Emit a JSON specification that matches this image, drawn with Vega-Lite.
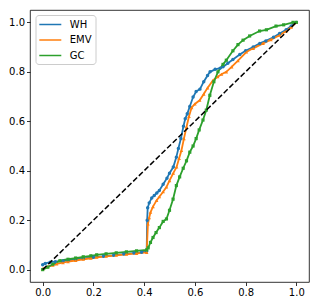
{
  "$schema": "https://vega.github.io/schema/vega-lite/v6.json",
  "width": 279,
  "height": 272,
  "autosize": {"type": "none"},
  "padding": {"left": 30, "top": 10, "right": 10, "bottom": 24},
  "background": "white",
  "config": {
    "view": {"stroke": "#000", "strokeWidth": 0.8},
    "axis": {"grid": false, "domain": false, "tickColor": "#000", "tickSize": 3.5, "tickWidth": 0.8, "labelFont": "DejaVu Sans", "labelFontSize": 10, "labelColor": "#000", "title": null, "labelPadding": 2}
  },
  "datasets": {
    "curves": [
      {"series": "WH", "x": 0.0, "y": 0.02}, {"series": "WH", "x": 0.01, "y": 0.025}, {"series": "WH", "x": 0.03, "y": 0.03}, {"series": "WH", "x": 0.05, "y": 0.032}, {"series": "WH", "x": 0.08, "y": 0.035}, {"series": "WH", "x": 0.1, "y": 0.038}, {"series": "WH", "x": 0.13, "y": 0.042}, {"series": "WH", "x": 0.16, "y": 0.045}, {"series": "WH", "x": 0.2, "y": 0.05}, {"series": "WH", "x": 0.24, "y": 0.054}, {"series": "WH", "x": 0.28, "y": 0.058}, {"series": "WH", "x": 0.32, "y": 0.063}, {"series": "WH", "x": 0.36, "y": 0.067}, {"series": "WH", "x": 0.39, "y": 0.07}, {"series": "WH", "x": 0.41, "y": 0.075}, {"series": "WH", "x": 0.412, "y": 0.2}, {"series": "WH", "x": 0.414, "y": 0.25}, {"series": "WH", "x": 0.42, "y": 0.27}, {"series": "WH", "x": 0.43, "y": 0.29}, {"series": "WH", "x": 0.44, "y": 0.3}, {"series": "WH", "x": 0.45, "y": 0.31}, {"series": "WH", "x": 0.46, "y": 0.32}, {"series": "WH", "x": 0.475, "y": 0.345}, {"series": "WH", "x": 0.49, "y": 0.37}, {"series": "WH", "x": 0.5, "y": 0.39}, {"series": "WH", "x": 0.515, "y": 0.415}, {"series": "WH", "x": 0.527, "y": 0.455}, {"series": "WH", "x": 0.535, "y": 0.49}, {"series": "WH", "x": 0.545, "y": 0.53}, {"series": "WH", "x": 0.555, "y": 0.58}, {"series": "WH", "x": 0.562, "y": 0.61}, {"series": "WH", "x": 0.57, "y": 0.63}, {"series": "WH", "x": 0.58, "y": 0.66}, {"series": "WH", "x": 0.593, "y": 0.698}, {"series": "WH", "x": 0.605, "y": 0.72}, {"series": "WH", "x": 0.62, "y": 0.73}, {"series": "WH", "x": 0.635, "y": 0.76}, {"series": "WH", "x": 0.65, "y": 0.785}, {"series": "WH", "x": 0.66, "y": 0.8}, {"series": "WH", "x": 0.68, "y": 0.81}, {"series": "WH", "x": 0.7, "y": 0.815}, {"series": "WH", "x": 0.711, "y": 0.82}, {"series": "WH", "x": 0.73, "y": 0.835}, {"series": "WH", "x": 0.75, "y": 0.85}, {"series": "WH", "x": 0.777, "y": 0.87}, {"series": "WH", "x": 0.8, "y": 0.885}, {"series": "WH", "x": 0.83, "y": 0.9}, {"series": "WH", "x": 0.856, "y": 0.915}, {"series": "WH", "x": 0.88, "y": 0.925}, {"series": "WH", "x": 0.91, "y": 0.94}, {"series": "WH", "x": 0.934, "y": 0.955}, {"series": "WH", "x": 0.96, "y": 0.97}, {"series": "WH", "x": 0.98, "y": 0.985}, {"series": "WH", "x": 1.0, "y": 1.0},
      {"series": "EMV", "x": 0.0, "y": 0.003}, {"series": "EMV", "x": 0.02, "y": 0.012}, {"series": "EMV", "x": 0.04, "y": 0.018}, {"series": "EMV", "x": 0.055, "y": 0.023}, {"series": "EMV", "x": 0.08, "y": 0.028}, {"series": "EMV", "x": 0.1, "y": 0.032}, {"series": "EMV", "x": 0.13, "y": 0.037}, {"series": "EMV", "x": 0.16, "y": 0.042}, {"series": "EMV", "x": 0.19, "y": 0.046}, {"series": "EMV", "x": 0.213, "y": 0.05}, {"series": "EMV", "x": 0.25, "y": 0.054}, {"series": "EMV", "x": 0.29, "y": 0.058}, {"series": "EMV", "x": 0.33, "y": 0.062}, {"series": "EMV", "x": 0.37, "y": 0.066}, {"series": "EMV", "x": 0.41, "y": 0.07}, {"series": "EMV", "x": 0.415, "y": 0.185}, {"series": "EMV", "x": 0.42, "y": 0.21}, {"series": "EMV", "x": 0.425, "y": 0.232}, {"series": "EMV", "x": 0.435, "y": 0.255}, {"series": "EMV", "x": 0.449, "y": 0.28}, {"series": "EMV", "x": 0.46, "y": 0.295}, {"series": "EMV", "x": 0.475, "y": 0.315}, {"series": "EMV", "x": 0.488, "y": 0.334}, {"series": "EMV", "x": 0.5, "y": 0.36}, {"series": "EMV", "x": 0.515, "y": 0.39}, {"series": "EMV", "x": 0.528, "y": 0.415}, {"series": "EMV", "x": 0.538, "y": 0.45}, {"series": "EMV", "x": 0.547, "y": 0.482}, {"series": "EMV", "x": 0.557, "y": 0.53}, {"series": "EMV", "x": 0.567, "y": 0.577}, {"series": "EMV", "x": 0.577, "y": 0.62}, {"series": "EMV", "x": 0.587, "y": 0.655}, {"series": "EMV", "x": 0.6, "y": 0.67}, {"series": "EMV", "x": 0.619, "y": 0.685}, {"series": "EMV", "x": 0.635, "y": 0.71}, {"series": "EMV", "x": 0.65, "y": 0.735}, {"series": "EMV", "x": 0.672, "y": 0.766}, {"series": "EMV", "x": 0.69, "y": 0.78}, {"series": "EMV", "x": 0.705, "y": 0.79}, {"series": "EMV", "x": 0.724, "y": 0.8}, {"series": "EMV", "x": 0.745, "y": 0.82}, {"series": "EMV", "x": 0.77, "y": 0.845}, {"series": "EMV", "x": 0.803, "y": 0.88}, {"series": "EMV", "x": 0.83, "y": 0.895}, {"series": "EMV", "x": 0.869, "y": 0.915}, {"series": "EMV", "x": 0.9, "y": 0.93}, {"series": "EMV", "x": 0.934, "y": 0.948}, {"series": "EMV", "x": 0.96, "y": 0.965}, {"series": "EMV", "x": 0.98, "y": 0.98}, {"series": "EMV", "x": 1.0, "y": 1.0},
      {"series": "GC", "x": 0.0, "y": 0.0}, {"series": "GC", "x": 0.02, "y": 0.01}, {"series": "GC", "x": 0.04, "y": 0.022}, {"series": "GC", "x": 0.068, "y": 0.036}, {"series": "GC", "x": 0.1, "y": 0.042}, {"series": "GC", "x": 0.13, "y": 0.047}, {"series": "GC", "x": 0.16, "y": 0.052}, {"series": "GC", "x": 0.19, "y": 0.056}, {"series": "GC", "x": 0.213, "y": 0.06}, {"series": "GC", "x": 0.25, "y": 0.064}, {"series": "GC", "x": 0.29, "y": 0.068}, {"series": "GC", "x": 0.33, "y": 0.072}, {"series": "GC", "x": 0.37, "y": 0.076}, {"series": "GC", "x": 0.41, "y": 0.08}, {"series": "GC", "x": 0.416, "y": 0.088}, {"series": "GC", "x": 0.425, "y": 0.11}, {"series": "GC", "x": 0.435, "y": 0.13}, {"series": "GC", "x": 0.447, "y": 0.15}, {"series": "GC", "x": 0.46, "y": 0.17}, {"series": "GC", "x": 0.475, "y": 0.195}, {"series": "GC", "x": 0.488, "y": 0.205}, {"series": "GC", "x": 0.5, "y": 0.24}, {"series": "GC", "x": 0.514, "y": 0.285}, {"series": "GC", "x": 0.527, "y": 0.34}, {"series": "GC", "x": 0.54, "y": 0.375}, {"series": "GC", "x": 0.554, "y": 0.41}, {"series": "GC", "x": 0.567, "y": 0.44}, {"series": "GC", "x": 0.58, "y": 0.475}, {"series": "GC", "x": 0.593, "y": 0.5}, {"series": "GC", "x": 0.605, "y": 0.53}, {"series": "GC", "x": 0.617, "y": 0.565}, {"series": "GC", "x": 0.632, "y": 0.605}, {"series": "GC", "x": 0.645, "y": 0.645}, {"series": "GC", "x": 0.659, "y": 0.705}, {"series": "GC", "x": 0.675, "y": 0.76}, {"series": "GC", "x": 0.691, "y": 0.8}, {"series": "GC", "x": 0.711, "y": 0.83}, {"series": "GC", "x": 0.724, "y": 0.847}, {"series": "GC", "x": 0.75, "y": 0.885}, {"series": "GC", "x": 0.77, "y": 0.91}, {"series": "GC", "x": 0.79, "y": 0.928}, {"series": "GC", "x": 0.816, "y": 0.945}, {"series": "GC", "x": 0.855, "y": 0.965}, {"series": "GC", "x": 0.882, "y": 0.97}, {"series": "GC", "x": 0.92, "y": 0.985}, {"series": "GC", "x": 0.95, "y": 0.99}, {"series": "GC", "x": 0.987, "y": 1.0}, {"series": "GC", "x": 1.0, "y": 1.0}
    ],
    "diag": [{"x": 0, "y": 0}, {"x": 1, "y": 1}]
  },
  "layer": [
    {
      "data": {"name": "curves"},
      "mark": {"type": "line", "strokeWidth": 1.8, "clip": true},
      "encoding": {
        "x": {"field": "x", "type": "quantitative", "scale": {"domain": [-0.05, 1.05], "nice": false, "zero": false}, "axis": {"values": [0, 0.2, 0.4, 0.6, 0.8, 1.0], "format": ".1f"}},
        "y": {"field": "y", "type": "quantitative", "scale": {"domain": [-0.05, 1.05], "nice": false, "zero": false}, "axis": {"values": [0, 0.2, 0.4, 0.6, 0.8, 1.0], "format": ".1f"}},
        "color": {"field": "series", "type": "nominal", "scale": {"domain": ["WH", "EMV", "GC"], "range": ["#1f77b4", "#ff7f0e", "#2ca02c"]},
          "legend": {"title": null, "orient": "none", "legendX": 5.5, "legendY": 5, "symbolType": "M-2,0H2", "symbolSize": 121, "symbolStrokeWidth": 1.5, "symbolOpacity": 0.8, "labelFont": "DejaVu Sans", "labelFontSize": 10, "labelColor": "#000", "labelOffset": 13, "fillColor": "white", "strokeColor": "#cccccc", "cornerRadius": 3, "padding": 3, "rowPadding": 3.5, "symbolOffset": 5.3}},
        "detail": {"field": "series"}
      }
    },
    {
      "data": {"name": "curves"},
      "transform": [{"filter": "datum.series === 'WH'"}],
      "mark": {"type": "point", "filled": true, "size": 12, "opacity": 1, "shape": "circle", "clip": true},
      "encoding": {
        "x": {"field": "x", "type": "quantitative"},
        "y": {"field": "y", "type": "quantitative"},
        "color": {"field": "series", "type": "nominal"}
      }
    },
    {
      "data": {"name": "curves"},
      "transform": [{"filter": "datum.series === 'EMV'"}],
      "mark": {"type": "point", "filled": true, "size": 13, "opacity": 1, "shape": "triangle-up", "clip": true},
      "encoding": {
        "x": {"field": "x", "type": "quantitative"},
        "y": {"field": "y", "type": "quantitative"},
        "color": {"field": "series", "type": "nominal"}
      }
    },
    {
      "data": {"name": "curves"},
      "transform": [{"filter": "datum.series === 'GC'"}],
      "mark": {"type": "point", "filled": true, "size": 10, "opacity": 1, "shape": "square", "clip": true},
      "encoding": {
        "x": {"field": "x", "type": "quantitative"},
        "y": {"field": "y", "type": "quantitative"},
        "color": {"field": "series", "type": "nominal"}
      }
    },
    {
      "data": {"name": "diag"},
      "mark": {"type": "line", "color": "#000", "strokeWidth": 1.5, "strokeDash": [5.5, 2.4]},
      "encoding": {
        "x": {"field": "x", "type": "quantitative"},
        "y": {"field": "y", "type": "quantitative"}
      }
    }
  ]
}
